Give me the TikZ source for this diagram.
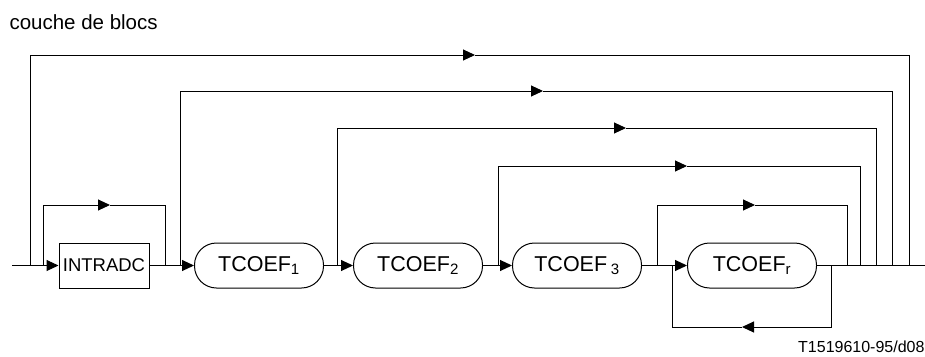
\documentclass[tikz,border=0pt]{standalone}
\usepackage{fontspec}
\setmainfont{Liberation Sans}
\usetikzlibrary{arrows.meta}
\begin{document}
\begin{tikzpicture}[x=1pt,y=-1pt, line width=1pt,
  tip/.style={-{Triangle[length=12pt,width=11pt]}},
  box/.style={draw, minimum width=90pt, minimum height=45pt, inner sep=0pt, font=\fontsize{18.5}{18.5}\selectfont},
  pill/.style={draw, rounded corners=22pt, minimum width=129pt, minimum height=45pt, inner sep=0pt, font=\fontsize{21.5}{21.5}\selectfont},
  lbl/.style={inner sep=0pt}]
\useasboundingbox (0,0) rectangle (925,356);

\node[lbl, anchor=west, font=\fontsize{20.5}{20.5}\selectfont] (title) at (9,22) {couche de blocs};
\node[lbl, anchor=east, font=\fontsize{16}{16}\selectfont] (ref) at (925,347) {T1519610-95/d08};

\node[box] (intra) at (104,265.5) {INTRADC};
\node[pill] (t1) at (259,265.5) {TCOEF\textsubscript{1}};
\node[pill] (t2) at (418,265.5) {TCOEF\textsubscript{2}};
\node[pill] (t3) at (577,265.5) {TCOEF\,\textsubscript{3}};
\node[pill] (tr) at (752,265.5) {TCOEF\textsubscript{r}};

% main line points
\coordinate (in) at (12,265.5);
\coordinate (out) at (925,265.5);
\coordinate (j1) at (30,265.5);
\coordinate (j0) at (43,265.5);
\coordinate (j2) at (180,265.5);
\coordinate (j3) at (337,265.5);
\coordinate (j4) at (498,265.5);
\coordinate (j5) at (657,265.5);
\coordinate (jb) at (672,265.5);
\coordinate (k0) at (165,265.5);
\coordinate (kb) at (831,265.5);
\coordinate (k5) at (847,265.5);
\coordinate (k4) at (860,265.5);
\coordinate (k3) at (876,265.5);
\coordinate (k2) at (892,265.5);
\coordinate (k1) at (909,265.5);

% arrow tips on loops
\coordinate (m1) at (475,55);
\coordinate (m2) at (543,91);
\coordinate (m3) at (626,128);
\coordinate (m4) at (687,166);
\coordinate (m5) at (755,205);
\coordinate (m0) at (110,205);
\coordinate (mb) at (742,327);

% main chain
\draw[tip] (in) -- (intra.west);
\draw[tip] (intra.east) -- (t1.west);
\draw[tip] (t1.east) -- (t2.west);
\draw[tip] (t2.east) -- (t3.west);
\draw[tip] (t3.east) -- (tr.west);
\draw (tr.east) -- (out);

% bypass loops
\draw[tip] (j1) |- (m1);
\draw (m1) -| (k1);
\draw[tip] (j0) |- (m0);
\draw (m0) -| (k0);
\draw[tip] (j2) |- (m2);
\draw (m2) -| (k2);
\draw[tip] (j3) |- (m3);
\draw (m3) -| (k3);
\draw[tip] (j4) |- (m4);
\draw (m4) -| (k4);
\draw[tip] (j5) |- (m5);
\draw (m5) -| (k5);

% repeat loop
\draw[tip] (kb) |- (mb);
\draw (mb) -| (jb);
\end{tikzpicture}
\end{document}
